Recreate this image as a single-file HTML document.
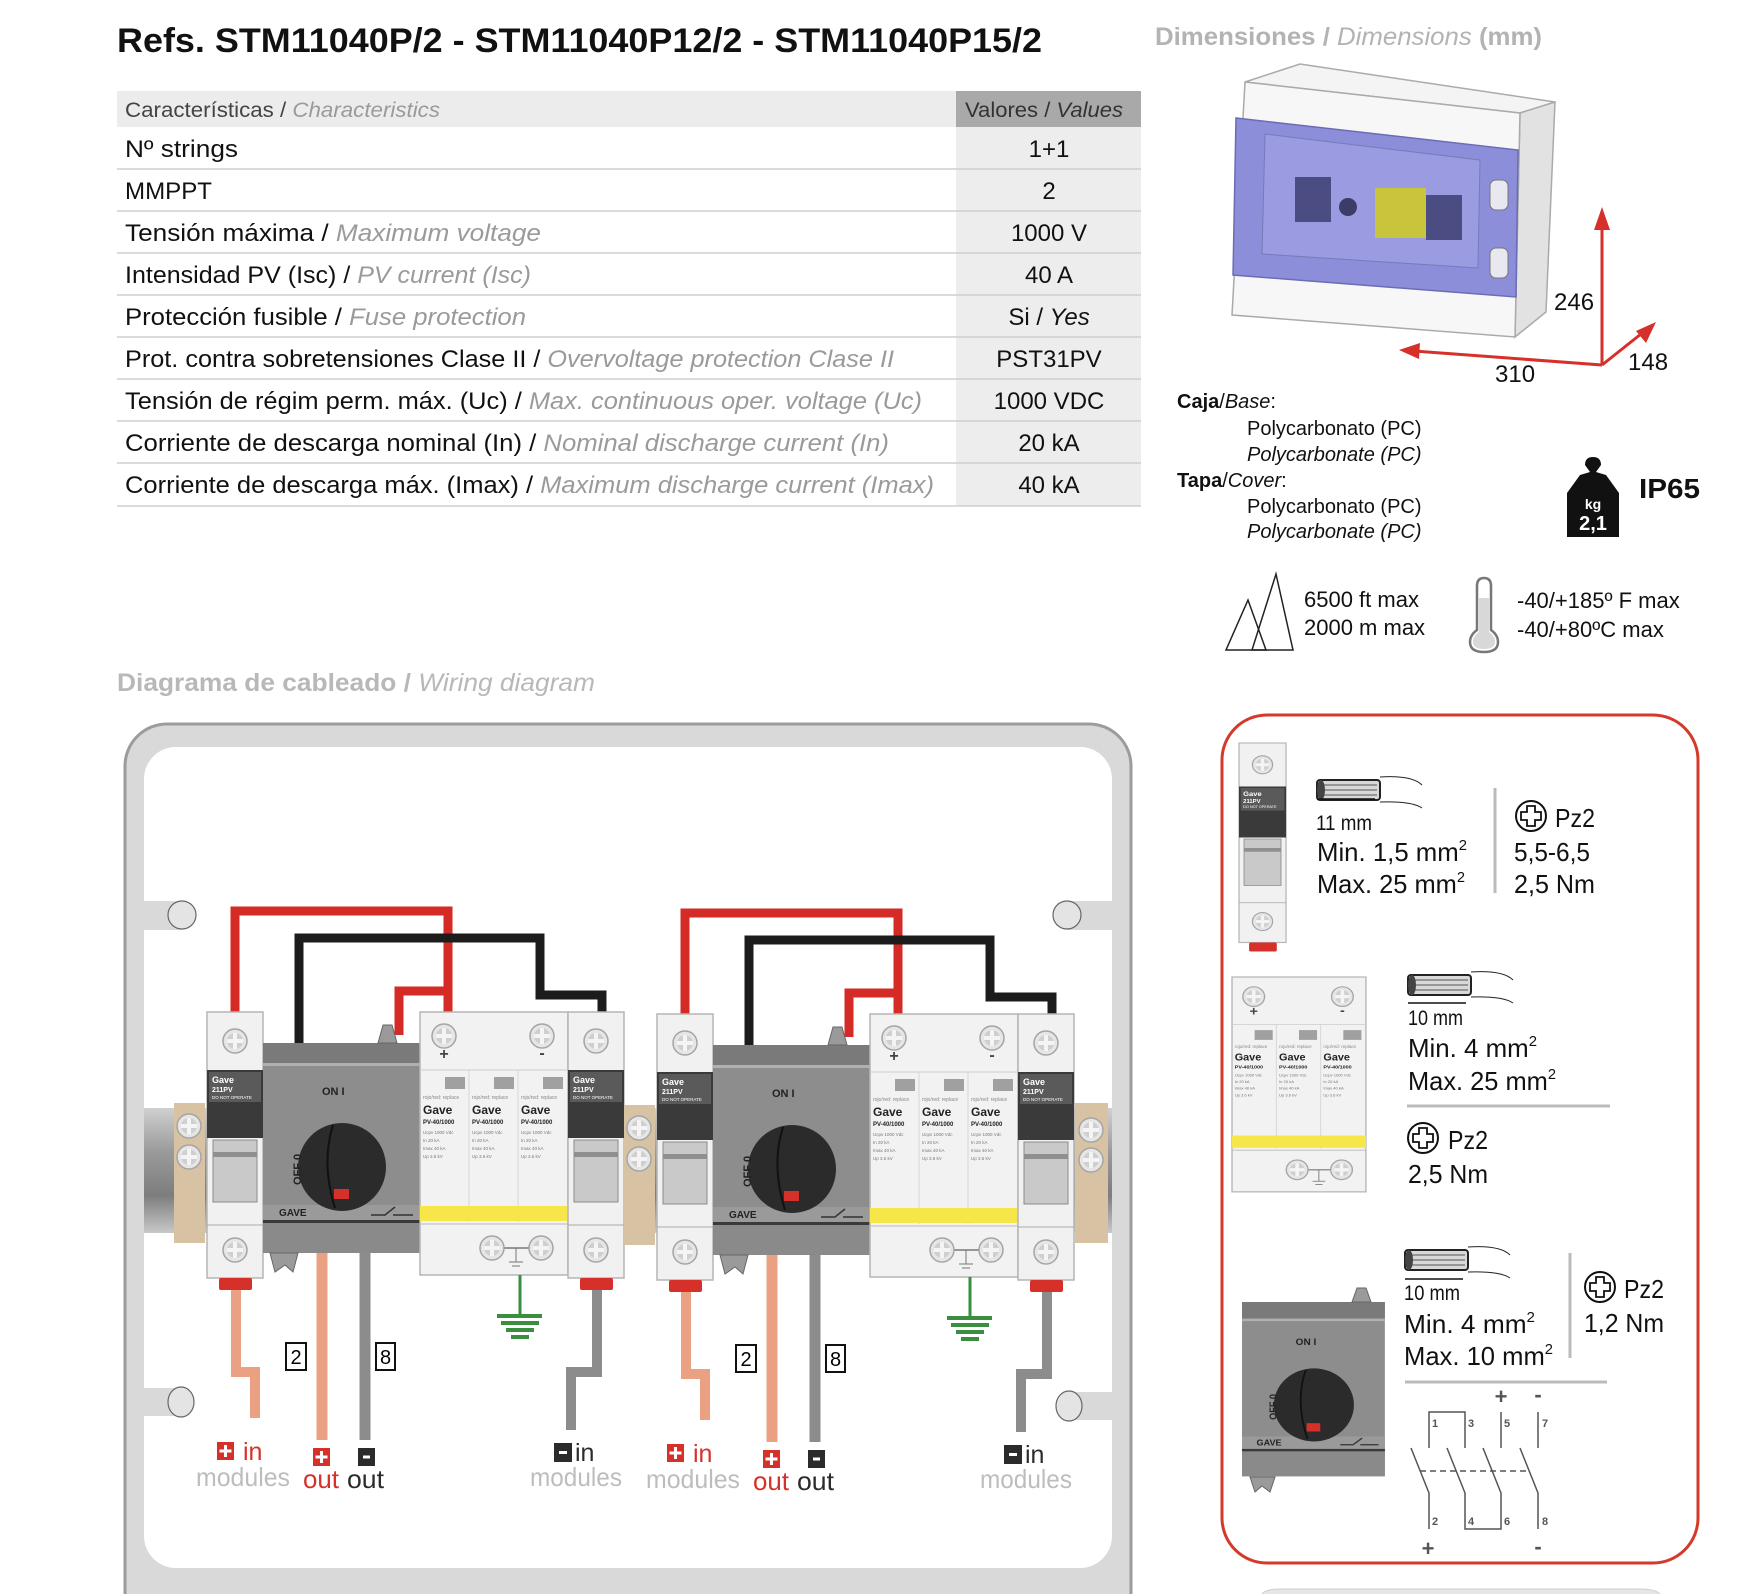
<!DOCTYPE html>
<html><head><meta charset="utf-8"><style>
html,body{margin:0;padding:0;background:#fff;}
svg{display:block;font-family:"Liberation Sans",sans-serif;}
</style></head><body>
<svg width="1744" height="1594" viewBox="0 0 1744 1594" xmlns="http://www.w3.org/2000/svg">
<defs>
<linearGradient id="rail" x1="0" y1="0" x2="0" y2="1">
<stop offset="0" stop-color="#d0d0d0"/><stop offset="0.35" stop-color="#9a9a9a"/><stop offset="0.7" stop-color="#7d7d7d"/><stop offset="1" stop-color="#c8c8c8"/></linearGradient>
<g id="screw"><circle r="12" fill="#e6e6e6" stroke="#a5a5a5" stroke-width="1.5"/><circle r="8" fill="#cfcfcf"/><rect x="-2" y="-8" width="4" height="16" fill="#f4f4f4"/><rect x="-8" y="-2" width="16" height="4" fill="#f4f4f4"/></g>
<g id="fuse">
<rect x="0" y="0" width="56" height="266" fill="#f1f1f1" stroke="#b5b5b5" stroke-width="1.5"/>
<use href="#screw" x="28" y="29"/>
<rect x="0" y="58" width="56" height="68" fill="#3a3a3a"/>
<rect x="2" y="60" width="52" height="30" fill="#5a5a5a"/>
<text x="5" y="71" font-size="9" fill="#fff" font-weight="bold">Gave</text>
<text x="5" y="80" font-size="7" fill="#fff" font-weight="bold">211PV</text>
<text x="5" y="87" font-size="4.5" fill="#fff">DO NOT OPERATE</text>
<rect x="6" y="128" width="44" height="62" fill="#c9c9c9" stroke="#8a8a8a"/>
<rect x="6" y="140" width="44" height="5" fill="#8f8f8f"/>
<line x1="0" y1="213" x2="56" y2="213" stroke="#aaa"/>
<use href="#screw" x="28" y="238"/>
<rect x="12" y="266" width="33" height="12" rx="2" fill="#d6302a"/>
</g>
<g id="spd">
<rect x="0" y="0" width="148" height="263" fill="#f2f2f2" stroke="#b5b5b5" stroke-width="1.5"/>
<use href="#screw" x="24" y="24"/><use href="#screw" x="122" y="24"/>
<text x="24" y="47" font-size="16" font-weight="bold" text-anchor="middle" fill="#444">+</text>
<text x="122" y="46" font-size="16" font-weight="bold" text-anchor="middle" fill="#444">-</text>
<line x1="0" y1="58" x2="148" y2="58" stroke="#ccc"/>
<line x1="49" y1="58" x2="49" y2="210" stroke="#d5d5d5"/><line x1="98" y1="58" x2="98" y2="210" stroke="#d5d5d5"/>
<rect x="25" y="65" width="20" height="12" fill="#a0a0a0"/><rect x="74" y="65" width="20" height="12" fill="#a0a0a0"/><rect x="123" y="65" width="20" height="12" fill="#a0a0a0"/>
<text x="3" y="87" font-size="5" fill="#888">rojo/red: replace</text><text x="52" y="87" font-size="5" fill="#888">rojo/red: replace</text><text x="101" y="87" font-size="5" fill="#888">rojo/red: replace</text>
<text x="3" y="102" font-size="12" font-weight="bold" fill="#222">Gave</text><text x="52" y="102" font-size="12" font-weight="bold" fill="#222">Gave</text><text x="101" y="102" font-size="12" font-weight="bold" fill="#222">Gave</text>
<text x="3" y="112" font-size="6" font-weight="bold" fill="#222">PV-40/1000</text><text x="52" y="112" font-size="6" font-weight="bold" fill="#222">PV-40/1000</text><text x="101" y="112" font-size="6" font-weight="bold" fill="#222">PV-40/1000</text>
<g fill="#777" font-size="4.5"><text x="3" y="122">Ucpv 1000 Vdc</text><text x="3" y="130">In 20 kA</text><text x="3" y="138">Imax 40 kA</text><text x="3" y="146">Up 3.6 kV</text>
<text x="52" y="122">Ucpv 1000 Vdc</text><text x="52" y="130">In 20 kA</text><text x="52" y="138">Imax 40 kA</text><text x="52" y="146">Up 3.6 kV</text>
<text x="101" y="122">Ucpv 1000 Vdc</text><text x="101" y="130">In 20 kA</text><text x="101" y="138">Imax 40 kA</text><text x="101" y="146">Up 3.6 kV</text></g>
<rect x="0" y="194" width="148" height="15" fill="#f6e64a"/>
<line x1="0" y1="212" x2="148" y2="212" stroke="#bbb"/>
<line x1="72" y1="236" x2="121" y2="236" stroke="#777" stroke-width="1.5"/>
<use href="#screw" x="72" y="236"/><use href="#screw" x="121" y="236"/>
<line x1="96" y1="236" x2="96" y2="250" stroke="#777"/><line x1="89" y1="250" x2="103" y2="250" stroke="#777"/><line x1="92" y1="254" x2="100" y2="254" stroke="#777"/>
</g>
<g id="switch">
<rect x="0" y="0" width="157" height="210" fill="#8d8d8d"/>
<rect x="0" y="0" width="157" height="20" fill="#7a7a7a"/>
<rect x="0" y="20" width="157" height="3" fill="#b0b0b0"/>
<rect x="0" y="162" width="157" height="16" fill="#9a9a9a"/>
<rect x="0" y="177" width="157" height="3" fill="#3a3a3a"/>
<rect x="0" y="180" width="157" height="30" fill="#8a8a8a"/>
<circle cx="79" cy="124" r="44" fill="#2b2b2b"/>
<path d="M70 82 Q58 120 72 165" stroke="#111" stroke-width="2" fill="none"/>
<rect x="71" y="146" width="15" height="10" fill="#d6302a"/>
<text x="59" y="52" font-size="11" font-weight="bold" fill="#222">ON I</text>
<text transform="translate(38 142) rotate(-90)" font-size="11" font-weight="bold" fill="#222">OFF 0</text>
<text x="16" y="173" font-size="10" font-weight="bold" fill="#222">GAVE</text>
<path d="M108 172 H122 L132 164 M130 172 H150" stroke="#333" stroke-width="1.5" fill="none"/>
</g>
<g id="half">
<path d="M235 1012 V911 H448 V1012" stroke="#d42b26" stroke-width="9" fill="none"/>
<path d="M399 1035 V991 H448" stroke="#d42b26" stroke-width="9" fill="none"/>
<path d="M299 1043 V938 H540 V995 H602 V1012" stroke="#1c1c1c" stroke-width="9" fill="none"/>
<rect x="174" y="1103" width="31" height="140" fill="#d8c2a4"/>
<use href="#screw" x="189" y="1126" transform="scale(1)"/>
<use href="#screw" x="189" y="1157"/>
<use href="#fuse" x="207" y="1012"/>
<use href="#switch" x="263" y="1043"/>
<path d="M378 1043 L383 1025 L392 1025 L397 1043 Z" fill="#9a9a9a" stroke="#666"/>
<path d="M270 1253 L275 1272 L285 1265 L293 1272 L298 1253 Z" fill="#9a9a9a" stroke="#666"/>
<use href="#spd" x="420" y="1012"/>
<use href="#fuse" x="568" y="1012"/>
<path d="M236 1290 V1372 H255 V1418" stroke="#e9a083" stroke-width="10" fill="none"/>
<path d="M322 1253 V1440" stroke="#e9a083" stroke-width="11" fill="none"/>
<path d="M365 1253 V1440" stroke="#8c8c8c" stroke-width="11" fill="none"/>
<path d="M597 1290 V1372 H571 V1430" stroke="#8c8c8c" stroke-width="10" fill="none"/>
<path d="M520 1275 V1316" stroke="#3a8f3e" stroke-width="3"/>
<g stroke="#3a8f3e" stroke-width="4"><line x1="497" y1="1316" x2="542" y2="1316"/><line x1="501" y1="1323" x2="539" y2="1323"/><line x1="506" y1="1330" x2="534" y2="1330"/><line x1="511" y1="1337" x2="529" y2="1337"/></g>
<rect x="286" y="1343" width="20" height="27" fill="#fff" stroke="#111" stroke-width="2"/><text x="296" y="1364" font-size="20" text-anchor="middle">2</text>
<rect x="376" y="1343" width="19" height="27" fill="#fff" stroke="#111" stroke-width="2"/><text x="385.5" y="1364" font-size="20" text-anchor="middle">8</text>
<rect x="217" y="1442" width="17" height="18" fill="#d6302a"/><path d="M225.5 1445 V1457 M219.5 1451 H231.5" stroke="#fff" stroke-width="3"/>
<text x="243" y="1460" font-size="25" fill="#d6302a">in</text>
<text x="196" y="1486" font-size="26" fill="#bdbdbd" textLength="94" lengthAdjust="spacingAndGlyphs">modules</text>
<rect x="313" y="1448" width="17" height="18" fill="#d6302a"/><path d="M321.5 1451 V1463 M315.5 1457 H327.5" stroke="#fff" stroke-width="3"/>
<rect x="358" y="1448" width="17" height="18" fill="#2b2b2b"/><path d="M363 1457 H370" stroke="#fff" stroke-width="3"/>
<text x="303" y="1488" font-size="26" fill="#d6302a" textLength="36" lengthAdjust="spacingAndGlyphs">out</text>
<text x="347" y="1488" font-size="26" fill="#2b2b2b" textLength="37" lengthAdjust="spacingAndGlyphs">out</text>
<rect x="554" y="1443" width="18" height="19" fill="#2b2b2b"/><path d="M559 1452.5 H567" stroke="#fff" stroke-width="3"/>
<text x="575" y="1461" font-size="25" fill="#2b2b2b">in</text>
<text x="530" y="1486" font-size="26" fill="#bdbdbd" textLength="92" lengthAdjust="spacingAndGlyphs">modules</text>
</g>
</defs>

<!-- Title -->
<text x="117" y="52" font-size="34" font-weight="bold" fill="#111" textLength="925" lengthAdjust="spacingAndGlyphs">Refs.  STM11040P/2 - STM11040P12/2 - STM11040P15/2</text>

<!-- Table -->
<rect x="117" y="91" width="839" height="36" fill="#ececec"/>
<rect x="956" y="91" width="185" height="36" fill="#a9a9a9"/>
<rect x="956" y="127" width="185" height="379" fill="#ededed"/>
<text x="125" y="117" font-size="21" fill="#444" textLength="315" lengthAdjust="spacingAndGlyphs">Características / <tspan fill="#9a9a9a" font-style="italic">Characteristics</tspan></text>
<text x="965" y="117" font-size="21" fill="#333" textLength="158" lengthAdjust="spacingAndGlyphs">Valores / <tspan font-style="italic">Values</tspan></text>
<g stroke="#cfcfcf" stroke-width="1.5">
<line x1="117" y1="169" x2="1141" y2="169"/><line x1="117" y1="211" x2="1141" y2="211"/><line x1="117" y1="253" x2="1141" y2="253"/><line x1="117" y1="295" x2="1141" y2="295"/><line x1="117" y1="337" x2="1141" y2="337"/><line x1="117" y1="379" x2="1141" y2="379"/><line x1="117" y1="421" x2="1141" y2="421"/><line x1="117" y1="463" x2="1141" y2="463"/><line x1="117" y1="506" x2="1141" y2="506"/>
</g>
<g font-size="24" fill="#111">
<text x="125" y="157" textLength="113" lengthAdjust="spacingAndGlyphs">Nº strings</text>
<text x="125" y="199" textLength="87" lengthAdjust="spacingAndGlyphs">MMPPT</text>
<text x="125" y="241" textLength="416" lengthAdjust="spacingAndGlyphs">Tensión máxima / <tspan fill="#9a9a9a" font-style="italic">Maximum voltage</tspan></text>
<text x="125" y="283" textLength="406" lengthAdjust="spacingAndGlyphs">Intensidad PV (Isc)  / <tspan fill="#9a9a9a" font-style="italic">PV current (Isc)</tspan></text>
<text x="125" y="325" textLength="401" lengthAdjust="spacingAndGlyphs">Protección fusible / <tspan fill="#9a9a9a" font-style="italic">Fuse protection</tspan></text>
<text x="125" y="367" textLength="769" lengthAdjust="spacingAndGlyphs">Prot. contra sobretensiones Clase II / <tspan fill="#9a9a9a" font-style="italic">Overvoltage protection Clase II</tspan></text>
<text x="125" y="409" textLength="797" lengthAdjust="spacingAndGlyphs">Tensión de régim perm. máx. (Uc) / <tspan fill="#9a9a9a" font-style="italic">Max. continuous oper. voltage (Uc)</tspan></text>
<text x="125" y="451" textLength="764" lengthAdjust="spacingAndGlyphs">Corriente de descarga nominal (In) / <tspan fill="#9a9a9a" font-style="italic">Nominal discharge current (In)</tspan></text>
<text x="125" y="493" textLength="809" lengthAdjust="spacingAndGlyphs">Corriente de descarga máx. (Imax) / <tspan fill="#9a9a9a" font-style="italic">Maximum discharge current (Imax)</tspan></text>
</g>
<g font-size="24" fill="#111" text-anchor="middle">
<text x="1049" y="157">1+1</text><text x="1049" y="199">2</text><text x="1049" y="241">1000 V</text><text x="1049" y="283">40 A</text>
<text x="1049" y="325">Si / <tspan font-style="italic">Yes</tspan></text><text x="1049" y="367">PST31PV</text><text x="1049" y="409">1000 VDC</text><text x="1049" y="451">20 kA</text><text x="1049" y="493">40 kA</text>
</g>

<!-- Dimensions -->
<text x="1155" y="45" font-size="25" font-weight="bold" fill="#b3b3b3" textLength="387" lengthAdjust="spacingAndGlyphs">Dimensiones / <tspan font-weight="normal" font-style="italic">Dimensions</tspan> (mm)</text>
<polygon points="1245,82 1300,64 1555,102 1520,113" fill="#f4f4f4" stroke="#aaa" stroke-width="1.5"/>
<polygon points="1520,113 1555,102 1546,312 1515,337" fill="#e2e2e2" stroke="#aaa" stroke-width="1.5"/>
<polygon points="1245,82 1520,113 1515,337 1232,315" fill="#f7f7f7" stroke="#aaa" stroke-width="1.5"/>
<polygon points="1236,118 1518,150 1516,297 1233,275" fill="#8c8ed9" stroke="#6a6cb5" stroke-width="1.5"/>
<polygon points="1265,134 1480,160 1478,268 1262,254" fill="#9a9be0" stroke="#777ab8"/>
<rect x="1295" y="177" width="36" height="45" fill="#4a4c82"/>
<circle cx="1348" cy="207" r="9" fill="#3c3c66"/>
<rect x="1375" y="188" width="51" height="50" fill="#c8c43c"/>
<rect x="1426" y="195" width="36" height="45" fill="#4a4c82"/>
<rect x="1490" y="180" width="18" height="30" rx="6" fill="#e8e8f0" stroke="#777"/>
<rect x="1490" y="248" width="18" height="30" rx="6" fill="#e8e8f0" stroke="#777"/>
<g stroke="#d6302a" stroke-width="3" fill="#d6302a">
<line x1="1602" y1="365" x2="1602" y2="222"/><polygon points="1602,207 1594,230 1610,230" stroke="none"/>
<line x1="1602" y1="365" x2="1414" y2="351"/><polygon points="1399,350 1420,343 1419,359" stroke="none"/>
<line x1="1602" y1="365" x2="1646" y2="330"/><polygon points="1656,322 1646,343 1636,331" stroke="none"/>
</g>
<g font-size="24" fill="#111"><text x="1554" y="310">246</text><text x="1495" y="382">310</text><text x="1628" y="370">148</text></g>

<g font-size="20" fill="#111">
<text x="1177" y="408"><tspan font-weight="bold">Caja</tspan>/<tspan font-style="italic">Base</tspan>:</text>
<text x="1247" y="435">Polycarbonato (PC)</text>
<text x="1247" y="461" font-style="italic">Polycarbonate (PC)</text>
<text x="1177" y="487"><tspan font-weight="bold">Tapa</tspan>/<tspan font-style="italic">Cover</tspan>:</text>
<text x="1247" y="513">Polycarbonato (PC)</text>
<text x="1247" y="538" font-style="italic">Polycarbonate (PC)</text>
</g>
<path d="M1585 465 Q1585 457 1593 457 Q1601 457 1601 465 L1596 472 L1606 475 L1619 493 L1619 537 L1567 537 L1567 493 L1580 475 L1590 472 Z" fill="#111"/>
<text x="1593" y="509" font-size="14" font-weight="bold" fill="#fff" text-anchor="middle">kg</text>
<text x="1593" y="530" font-size="20" font-weight="bold" fill="#fff" text-anchor="middle">2,1</text>
<text x="1639" y="498" font-size="28" font-weight="bold" fill="#111" textLength="61" lengthAdjust="spacingAndGlyphs">IP65</text>
<g fill="none" stroke="#222" stroke-width="1.5"><polygon points="1276,574 1293,650 1252,650"/><polygon points="1248,600 1266,650 1226,650"/></g>
<text x="1304" y="607" font-size="22" fill="#111">6500 ft max</text>
<text x="1304" y="635" font-size="22" fill="#111">2000 m max</text>
<path d="M1477 586 Q1477 578 1484 578 Q1491 578 1491 586 L1491 630 Q1498 635 1498 642 Q1498 652 1484 652 Q1470 652 1470 642 Q1470 635 1477 630 Z" fill="#fff" stroke="#777" stroke-width="2.5"/>
<path d="M1479 598 L1489 598 L1489 632 Q1495 636 1495 642 Q1495 649 1484 649 Q1473 649 1473 642 Q1473 636 1479 632 Z" fill="#d8d8d8"/>
<text x="1517" y="608" font-size="22" fill="#111">-40/+185º F max</text>
<text x="1517" y="637" font-size="22" fill="#111">-40/+80ºC max</text>

<!-- Wiring heading -->
<text x="117" y="691" font-size="25" font-weight="bold" fill="#b8b8b8" textLength="478" lengthAdjust="spacingAndGlyphs">Diagrama de cableado / <tspan font-weight="normal" font-style="italic">Wiring diagram</tspan></text>

<!-- Panel -->
<rect x="125" y="724" width="1006" height="930" rx="42" fill="#d9d9d9" stroke="#9c9c9c" stroke-width="3"/>
<rect x="144" y="747" width="968" height="821" rx="32" fill="#fff"/>
<rect x="144" y="901" width="38" height="29" fill="#d9d9d9"/>
<rect x="1067" y="901" width="45" height="29" fill="#d9d9d9"/>
<rect x="144" y="1388" width="37" height="28" fill="#d9d9d9"/>
<rect x="1069" y="1392" width="43" height="28" fill="#d9d9d9"/>
<circle cx="182" cy="915" r="14" fill="#e4e4e4" stroke="#666" stroke-width="1.2"/>
<circle cx="1067" cy="915" r="14" fill="#e4e4e4" stroke="#666" stroke-width="1.2"/>
<ellipse cx="181" cy="1402" rx="13" ry="15" fill="#e4e4e4" stroke="#666" stroke-width="1.2"/>
<ellipse cx="1069" cy="1406" rx="13" ry="15" fill="#e4e4e4" stroke="#666" stroke-width="1.2"/>
<rect x="144" y="1108" width="968" height="125" fill="url(#rail)"/>
<rect x="1075" y="1103" width="33" height="140" fill="#d8c2a4"/>
<use href="#screw" x="1091" y="1130"/><use href="#screw" x="1091" y="1160"/>
<use href="#half"/>
<use href="#half" transform="translate(450 2)"/>

<!-- Right red box -->
<rect x="1222" y="715" width="476" height="848" rx="45" fill="#fff" stroke="#d43a2a" stroke-width="3"/>
<g transform="translate(1239 743) scale(0.84 0.75)"><use href="#fuse"/></g>
<!-- wire icon 1 -->
<g transform="translate(1317 777)">
<rect x="0" y="3" width="63" height="20" rx="3" fill="#d8d8d8" stroke="#222" stroke-width="2"/>
<g stroke="#555" stroke-width="1"><line x1="4" y1="8" x2="60" y2="8"/><line x1="4" y1="13" x2="60" y2="13"/><line x1="4" y1="18" x2="60" y2="18"/></g>
<ellipse cx="4" cy="13" rx="4" ry="10" fill="#444"/>
<path d="M63 0 Q95 -2 105 8 M63 25 Q95 24 105 31" stroke="#222" stroke-width="1" fill="none"/>
<path d="M0 22 H58" stroke="#111" stroke-width="1.5"/>
</g>
<text x="1316" y="830" font-size="21" fill="#111" textLength="56" lengthAdjust="spacingAndGlyphs">11 mm</text>
<text x="1317" y="861" font-size="26" fill="#111" textLength="150" lengthAdjust="spacingAndGlyphs">Min. 1,5 mm<tspan font-size="15" dy="-11">2</tspan></text>
<text x="1317" y="893" font-size="26" fill="#111" textLength="148" lengthAdjust="spacingAndGlyphs">Max. 25 mm<tspan font-size="15" dy="-11">2</tspan></text>
<line x1="1495" y1="788" x2="1495" y2="893" stroke="#bbb" stroke-width="3"/>
<g id="pz"><circle cx="1531" cy="816" r="15" fill="#fff" stroke="#111" stroke-width="2"/><path d="M1527 806 H1535 V812 H1541 V820 H1535 V826 H1527 V820 H1521 V812 H1527 Z" fill="none" stroke="#111" stroke-width="1.8"/></g>
<text x="1555" y="827" font-size="26" fill="#111" textLength="40" lengthAdjust="spacingAndGlyphs">Pz2</text>
<text x="1514" y="861" font-size="26" fill="#111" textLength="76" lengthAdjust="spacingAndGlyphs">5,5-6,5</text>
<text x="1514" y="893" font-size="26" fill="#111" textLength="81" lengthAdjust="spacingAndGlyphs">2,5 Nm</text>

<!-- SPD in box -->
<g transform="translate(1232 977) scale(0.905 0.817)"><use href="#spd"/></g>
<g transform="translate(1408 972)">
<rect x="0" y="3" width="63" height="20" rx="3" fill="#d8d8d8" stroke="#222" stroke-width="2"/>
<g stroke="#555" stroke-width="1"><line x1="4" y1="8" x2="60" y2="8"/><line x1="4" y1="13" x2="60" y2="13"/><line x1="4" y1="18" x2="60" y2="18"/></g>
<ellipse cx="4" cy="13" rx="4" ry="10" fill="#444"/>
<path d="M63 0 Q95 -2 105 8 M63 25 Q95 24 105 31" stroke="#222" stroke-width="1" fill="none"/>
<path d="M0 31 H58" stroke="#111" stroke-width="1.5"/>
</g>
<text x="1408" y="1025" font-size="21" fill="#111" textLength="55" lengthAdjust="spacingAndGlyphs">10 mm</text>
<text x="1408" y="1057" font-size="26" fill="#111" textLength="129" lengthAdjust="spacingAndGlyphs">Min. 4 mm<tspan font-size="15" dy="-11">2</tspan></text>
<text x="1408" y="1090" font-size="26" fill="#111" textLength="148" lengthAdjust="spacingAndGlyphs">Max. 25 mm<tspan font-size="15" dy="-11">2</tspan></text>
<line x1="1407" y1="1106" x2="1610" y2="1106" stroke="#bbb" stroke-width="3"/>
<use href="#pz" transform="translate(-108 322)"/>
<text x="1448" y="1149" font-size="26" fill="#111" textLength="40" lengthAdjust="spacingAndGlyphs">Pz2</text>
<text x="1408" y="1183" font-size="26" fill="#111" textLength="80" lengthAdjust="spacingAndGlyphs">2,5 Nm</text>

<!-- switch in box -->
<g transform="translate(1242 1302) scale(0.91 0.83)"><use href="#switch"/></g>
<path d="M1352 1302 L1357 1288 L1366 1288 L1371 1302 Z" fill="#9a9a9a" stroke="#666"/>
<path d="M1250 1477 L1255 1492 L1262 1486 L1270 1492 L1275 1477 Z" fill="#9a9a9a" stroke="#666"/>
<g transform="translate(1405 1247)">
<rect x="0" y="3" width="63" height="20" rx="3" fill="#d8d8d8" stroke="#222" stroke-width="2"/>
<g stroke="#555" stroke-width="1"><line x1="4" y1="8" x2="60" y2="8"/><line x1="4" y1="13" x2="60" y2="13"/><line x1="4" y1="18" x2="60" y2="18"/></g>
<ellipse cx="4" cy="13" rx="4" ry="10" fill="#444"/>
<path d="M63 0 Q95 -2 105 8 M63 25 Q95 24 105 31" stroke="#222" stroke-width="1" fill="none"/>
<path d="M0 32 H58" stroke="#111" stroke-width="1.5"/>
</g>
<text x="1404" y="1300" font-size="21" fill="#111" textLength="56" lengthAdjust="spacingAndGlyphs">10 mm</text>
<text x="1404" y="1333" font-size="26" fill="#111" textLength="131" lengthAdjust="spacingAndGlyphs">Min. 4 mm<tspan font-size="15" dy="-11">2</tspan></text>
<text x="1404" y="1365" font-size="26" fill="#111" textLength="149" lengthAdjust="spacingAndGlyphs">Max. 10 mm<tspan font-size="15" dy="-11">2</tspan></text>
<line x1="1570" y1="1253" x2="1570" y2="1358" stroke="#bbb" stroke-width="3"/>
<use href="#pz" transform="translate(69 471)"/>
<text x="1624" y="1298" font-size="26" fill="#111" textLength="40" lengthAdjust="spacingAndGlyphs">Pz2</text>
<text x="1584" y="1332" font-size="26" fill="#111" textLength="80" lengthAdjust="spacingAndGlyphs">1,2 Nm</text>
<line x1="1405" y1="1382" x2="1607" y2="1382" stroke="#bbb" stroke-width="3"/>
<!-- schematic -->
<g stroke="#555" stroke-width="1.5" fill="none">
<path d="M1429 1448 V1412 H1465 V1448"/>
<path d="M1501 1412 V1448 M1538 1412 V1448"/>
<path d="M1411 1448 L1429 1493 V1529 M1447 1448 L1465 1493 V1529 H1501 V1493 L1483 1448 M1520 1448 L1538 1493 V1529"/>
<path d="M1420 1471 H1530" stroke-dasharray="6 4"/>
</g>
<g font-size="11" font-weight="bold" fill="#555"><text x="1432" y="1427">1</text><text x="1468" y="1427">3</text><text x="1504" y="1427">5</text><text x="1542" y="1427">7</text>
<text x="1432" y="1525">2</text><text x="1468" y="1525">4</text><text x="1504" y="1525">6</text><text x="1542" y="1525">8</text></g>
<g font-size="22" font-weight="bold" fill="#555" text-anchor="middle"><text x="1501" y="1404">+</text><text x="1538" y="1402">-</text><text x="1428" y="1556">+</text><text x="1538" y="1554">-</text></g>
<path d="M1262 1594 Q1265 1589 1280 1589 H1640 Q1655 1589 1660 1594" fill="#e6e6e6" stroke="#cfcfcf"/>
</svg>
</body></html>
